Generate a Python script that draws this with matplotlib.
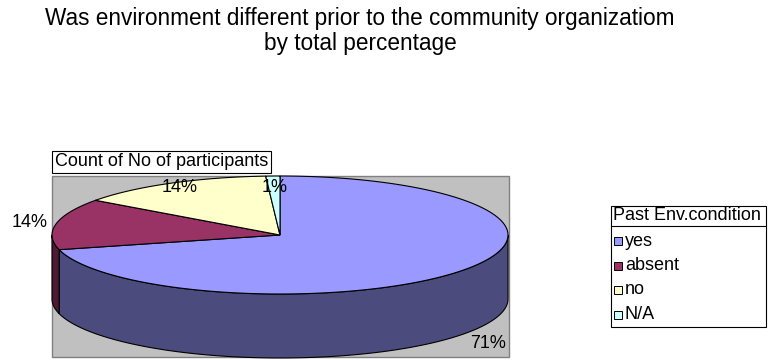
import numpy as np
import matplotlib
matplotlib.use("Agg")
import matplotlib.pyplot as plt
from matplotlib.patches import Polygon, Rectangle

plt.rcParams['font.family'] = ['Liberation Sans', 'DejaVu Sans']

# data
categories = ['yes', 'absent', 'no', 'N/A']
values = [71, 14, 14, 1]
top_colors = ['#9999FF', '#993366', '#FFFFCC', '#CCFFFF']
side_colors = ['#4B4B7D', '#4C1A33', '#80805F', '#668080']
label_r = [1.155, 1.12, 0.91, 0.8]   # how far out each label sits

title = "Was environment different prior to the community organizatiom\nby total percentage"
series_name = "Count of No of participants"
legend_title = "Past Env.condition"

# geometry in pixels (figure is 769 x 360)
cx, cy = 280, 235
rx, ry = 228, 59
depth = 64


def pt(theta, r=1.0):
    """ Point on the pie ellipse, theta in degrees clockwise from 12 o'clock. """
    t = np.radians(theta)
    return cx + rx * r * np.sin(t), cy - ry * r * np.cos(t)


fig = plt.figure(figsize=(7.69, 3.60), dpi=100)
ax = fig.add_axes([0, 0, 1, 1])
ax.set_xlim(0, 769)
ax.set_ylim(360, 0)
ax.axis('off')

# plot area
ax.add_patch(Rectangle((52, 176), 457, 181, facecolor='#C0C0C0', edgecolor='#808080', lw=1))

total = float(sum(values))
fracs = np.array(values) / total
edges = np.concatenate([[0], np.cumsum(fracs)]) * 360

# side walls (front half only: 90..270 deg)
for i in range(len(values)):
    a0, a1 = max(edges[i], 90), min(edges[i + 1], 270)
    if a1 <= a0:
        continue
    th = np.linspace(a0, a1, 100)
    xs, ys = pt(th)
    poly = np.vstack([np.column_stack([xs, ys]),
                      np.column_stack([xs[::-1], ys[::-1] + depth])])
    ax.add_patch(Polygon(poly, closed=True, facecolor=side_colors[i], edgecolor='black', lw=0.8))

# tops
for i in range(len(values)):
    th = np.linspace(edges[i], edges[i + 1], 200)
    xs, ys = pt(th)
    poly = np.vstack([[cx, cy], np.column_stack([xs, ys])])
    ax.add_patch(Polygon(poly, closed=True, facecolor=top_colors[i], edgecolor='black', lw=0.8))

# data labels
for i in range(len(values)):
    mid = (edges[i] + edges[i + 1]) / 2
    x, y = pt(mid, label_r[i])
    if 90 < mid < 270:
        y += depth + 3
    ax.text(x, y, "{:.0f}%".format(fracs[i] * 100), fontsize=13, ha='center', va='center')

# series name box
ax.add_patch(Rectangle((52, 151), 219, 22, facecolor='white', edgecolor='black', lw=0.8))
ax.text(55, 162, series_name, fontsize=13, ha='left', va='center')

# title
ax.text(360, 31, title, fontsize=16.3, ha='center', va='center', linespacing=1.1)

# legend
ax.add_patch(Rectangle((611, 206), 155, 121, facecolor='white', edgecolor='black', lw=0.8))
ax.plot([611, 766], [226, 226], color='black', lw=0.8)
ax.text(613, 216, legend_title, fontsize=13, ha='left', va='center')
for i, name in enumerate(categories):
    y = 241 + i * 24.5
    ax.add_patch(Rectangle((614, y - 4), 8, 8, facecolor=top_colors[i], edgecolor='black', lw=0.7))
    ax.text(625, y, name, fontsize=13, ha='left', va='center')

fig.savefig('out.png', dpi=100)
